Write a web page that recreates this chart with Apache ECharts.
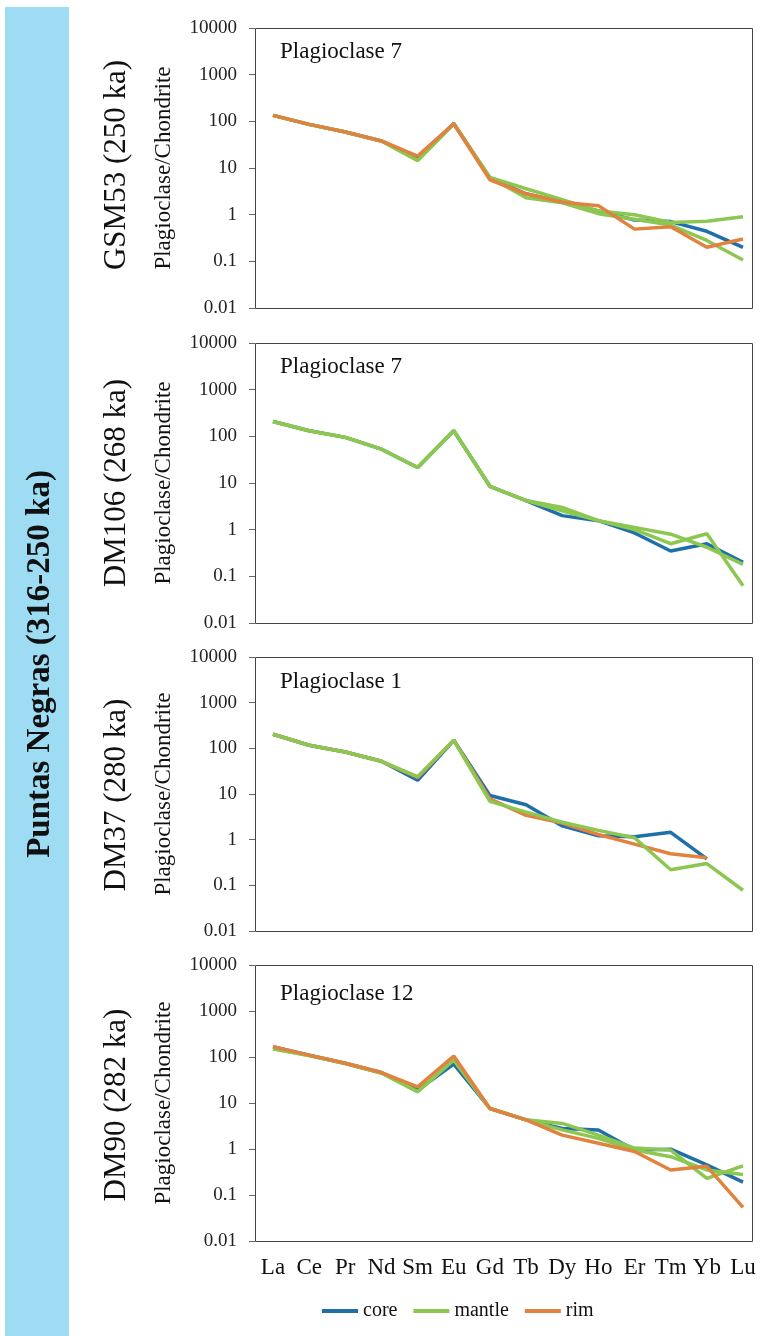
<!DOCTYPE html>
<html>
<head>
<meta charset="utf-8">
<script src="https://cdn.jsdelivr.net/npm/echarts@6/dist/echarts.min.js"></script>
<style>
html,body{margin:0;padding:0;background:#fff;}
#chart{width:763px;height:1336px;}
</style>
</head>
<body>
<div id="chart"></div>
<script>
var categories = ['La','Ce','Pr','Nd','Sm','Eu','Gd','Tb','Dy','Ho','Er','Tm','Yb','Lu'];
var seriesNames = ['core','mantle','rim'];
var panelTitles = ['Plagioclase 7','Plagioclase 7','Plagioclase 1','Plagioclase 12'];
var sampleLabels = ['GSM53 (250 ka)','DM106 (268 ka)','DM37 (280 ka)','DM90 (282 ka)'];
var groupLabel = 'Puntas Negras (316-250 ka)';
var yAxisTitle = 'Plagioclase/Chondrite';
var yTickLabels = ['0.01','0.1','1','10','100','1000','10000'];

// GSM53
var gsm53Core    = [134, 86, 59, 38, 16, 90, 6.0, 2.8, 1.85, 1.2, 0.77, 0.71, 0.44, 0.2];
var gsm53Mantle  = [134, 86, 59, 38, 14.5, 89, 6.3, 3.6, 2.1, 1.2, 1.0, 0.68, 0.72, 0.9];
var gsm53Mantle2 = [134, 86, 59, 38, 14.5, 89, 6.3, 2.3, 1.8, 1.05, 0.8, 0.6, 0.28, 0.107];
var gsm53Rim     = [134, 86, 59, 38, 18, 89, 5.6, 2.8, 1.85, 1.56, 0.49, 0.55, 0.2, 0.3];
// DM106
var dm106Core    = [208, 132, 95, 53, 21.5, 132, 8.5, 4.2, 2.0, 1.56, 0.85, 0.35, 0.5, 0.2];
var dm106Mantle  = [208, 132, 95, 53, 21.5, 132, 8.5, 4.2, 3.0, 1.56, 1.12, 0.8, 0.42, 0.18];
var dm106Mantle2 = [208, 132, 95, 53, 21.5, 132, 8.5, 4.2, 2.55, 1.56, 1.0, 0.5, 0.82, 0.063];
// DM37
var dm37Core   = [203, 117, 83, 52, 20, 150, 9.3, 5.8, 2.0, 1.22, 1.16, 1.45, 0.38, null];
var dm37Mantle = [203, 117, 83, 52, 24, 150, 6.9, 4.0, 2.4, 1.6, 1.1, 0.22, 0.3, 0.078];
var dm37Rim    = [203, 117, 83, 52, 23, 150, 7.8, 3.4, 2.3, 1.3, 0.8, 0.49, 0.4, null];
// DM90
var dm90Core    = [167, 110, 73, 46, 19, 70, 7.6, 4.3, 2.8, 2.6, 0.95, 0.99, 0.45, 0.19];
var dm90Mantle  = [150, 108, 72, 45, 17.6, 86, 7.6, 4.3, 3.6, 2.0, 1.05, 0.95, 0.23, 0.43];
var dm90Mantle2 = [150, 108, 72, 45, 17.6, 86, 7.6, 4.3, 2.6, 1.7, 0.95, 0.68, 0.35, 0.28];
var dm90Rim     = [167, 110, 73, 46, 22.5, 105, 7.6, 4.3, 2.0, 1.33, 0.88, 0.35, 0.42, 0.054];

var colors = {core:'#1F6FA9', mantle:'#8BC751', rim:'#E2823F'};
var FONT = '"Liberation Serif","Times New Roman",serif';

var panels = [
  {top:28,  height:280, lines:[['core',gsm53Core],['mantle',gsm53Mantle],['mantle',gsm53Mantle2],['rim',gsm53Rim]]},
  {top:343, height:280, lines:[['core',dm106Core],['mantle',dm106Mantle],['mantle',dm106Mantle2]]},
  {top:657, height:274, lines:[['core',dm37Core],['rim',dm37Rim],['mantle',dm37Mantle]]},
  {top:965, height:276, lines:[['core',dm90Core],['mantle',dm90Mantle],['mantle',dm90Mantle2],['rim',dm90Rim]]}
];
var titleTops = [40, 355, 670, 982];
var labelCenters = [165, 483, 795, 1105];

var grids = [], xAxes = [], yAxes = [], series = [], titles = [], graphics = [];

graphics.push({type:'rect', shape:{x:5, y:7, width:64, height:1329}, style:{fill:'#9DDCF2'}, z:0});
graphics.push({type:'text', x:40, y:664, rotation:Math.PI/2,
  style:{text:groupLabel, fill:'#111', font:'bold 33px ' + FONT, align:'center', verticalAlign:'middle'}, z:1});

panels.forEach(function(p, i){
  grids.push({left:273, right:20, top:p.top, height:p.height});
  var isLast = i === panels.length - 1;
  xAxes.push({
    type:'category', gridIndex:i, data:categories, boundaryGap:false,
    axisLine:{show:false}, axisTick:{show:false}, splitLine:{show:false},
    axisLabel:{show:isLast, interval:0, margin:15, fontFamily:FONT, fontSize:23, color:'#111'}
  });
  yAxes.push({
    type:'log', gridIndex:i, logBase:10, min:0.01, max:10000, offset:18,
    axisLine:{show:false},
    axisTick:{show:true, length:6, lineStyle:{color:'#666'}},
    splitLine:{show:false},
    axisLabel:{margin:18, fontFamily:FONT, fontSize:19, color:'#222',
      formatter:function(v){ var e = Math.round(Math.log10(v)); return yTickLabels[e + 2]; }},
    name:yAxisTitle, nameLocation:'middle', nameRotate:90, nameGap:80,
    nameTextStyle:{fontFamily:FONT, fontSize:23, color:'#111'}
  });
  p.lines.forEach(function(l){
    series.push({
      type:'line', name:l[0], xAxisIndex:i, yAxisIndex:i, data:l[1],
      showSymbol:false, symbol:'none', connectNulls:false,
      lineStyle:{width:3.5, color:colors[l[0]]}, itemStyle:{color:colors[l[0]]},
      animation:false
    });
  });
  titles.push({text:panelTitles[i], left:280, top:titleTops[i], padding:0,
    textStyle:{fontFamily:FONT, fontSize:23, fontWeight:'normal', color:'#111'}});
  graphics.push({type:'rect', shape:{x:255.5, y:p.top + 0.5, width:497, height:p.height},
    style:{fill:'none', stroke:'#444', lineWidth:1}, z:5});
  graphics.push({type:'text', x:117, y:labelCenters[i], rotation:Math.PI/2,
    style:{text:sampleLabels[i], fill:'#111', font:'31px ' + FONT, align:'center', verticalAlign:'middle'}, z:1});
});

var chart = echarts.init(document.getElementById('chart'), null, {renderer:'canvas'});
chart.setOption({
  backgroundColor:'#fff',
  animation:false,
  title:titles,
  grid:grids,
  xAxis:xAxes,
  yAxis:yAxes,
  series:series,
  graphic:graphics,
  legend:{
    data:seriesNames, left:322, top:1301, padding:0, icon:'rect', itemWidth:36, itemHeight:4, itemGap:16,
    textStyle:{fontFamily:FONT, fontSize:20, color:'#111'}
  }
});
</script>
</body>
</html>
